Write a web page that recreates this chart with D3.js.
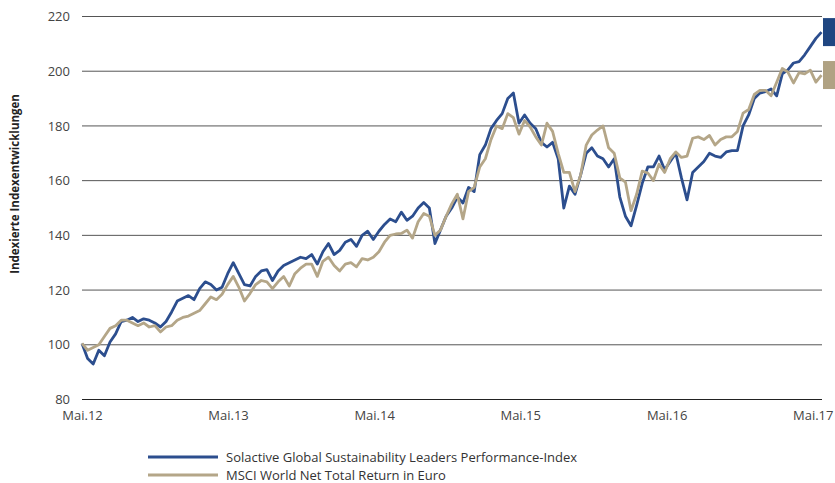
<!DOCTYPE html>
<html>
<head>
<meta charset="utf-8">
<script src="https://cdn.jsdelivr.net/npm/d3@7"></script>
<style>
  body { margin: 0; background: #fff; }
  text { font-family: "Open Sans", "Noto Sans", sans-serif; }
</style>
</head>
<body>
<div id="dataviz"></div>
<script>
// two-week observations starting May 2012
var startDate = "2012-05-01";
var stepDays = 14;

var solactive = [
  100.5, 95, 93, 98, 96, 101, 104, 108.5, 109, 110,
  108.5, 109.5, 109, 108, 106.5, 108.5, 112, 116, 117, 118,
  116.5, 120.5, 123, 122, 120, 121, 126, 130, 126, 122,
  121.5, 125, 127, 127.5, 123.5, 127, 129, 130, 131, 132,
  131.5, 133, 129.5, 134, 137, 133, 134.5, 137.5, 138.5, 136,
  140, 141.5, 138.5, 141.5, 144, 146, 145, 148.5, 145.5, 147,
  150, 152, 150, 137, 142, 147, 150, 154, 151.8, 157.5,
  156, 169.5, 173, 179, 182, 184.5, 190, 192, 181, 184,
  181, 179, 174, 172.3, 174, 168, 150, 158, 155, 162,
  170, 172, 169, 168, 165, 168, 154, 147, 143.5, 151,
  159, 165, 165, 169, 164, 167, 170, 161, 153, 163,
  165, 167, 170, 169, 168.5, 170.5, 171, 171, 180, 184,
  190, 192, 192.5, 193.5, 191, 199, 200.5, 203, 203.5, 206,
  209, 212, 214.3
];

var msci = [
  100.5, 98, 99, 100, 103, 106, 107, 109, 109, 108,
  107, 108, 106.5, 107, 104.7, 106.5, 107, 109, 110, 110.5,
  111.5, 112.5, 115, 117.5, 116.5, 118.5, 122, 125, 121, 116,
  118.8, 122, 123.5, 123, 120.5, 123, 125, 121.5, 126, 128,
  129.5, 129.5, 125, 130.5, 132, 129, 127, 129.5, 130, 128.5,
  131.5, 131, 132, 134, 137.5, 140, 140.5, 140.7, 141.9, 139,
  145, 148, 147, 140, 142, 147, 151.5, 155, 146, 156,
  157.5, 165, 168, 175, 180, 179, 184.5, 183, 177, 182,
  179.6, 176, 173, 181, 178, 170, 163, 163, 156, 162,
  173, 176.7, 178.5, 180, 172, 170, 161, 159.5, 149, 155,
  163.5, 162.8, 160, 166, 163, 168, 170.5, 168.5, 169, 175.5,
  176, 175, 176.5, 173, 175, 176, 176, 178, 184.7, 186,
  191.5, 193, 193, 191, 196, 201, 199.7, 195.7, 199.5, 199,
  200.4, 196, 198.6
];

var seriesNames = [
  "Solactive Global Sustainability Leaders Performance-Index",
  "MSCI World Net Total Return in Euro"
];
var seriesColors = ["#2c4e8e", "#b4a688"];
var markerColors = ["#1f4681", "#b0a283"];

var yTicks = [80, 100, 120, 140, 160, 180, 200, 220];
var xTickLabels = ["Mai.12", "Mai.13", "Mai.14", "Mai.15", "Mai.16", "Mai.17"];
var xTickDates = ["2012-05-01", "2013-05-01", "2014-05-01", "2015-05-01", "2016-05-01", "2017-05-01"];
var yTitle = "Indexierte Indexentwicklungen";

var parse = d3.timeParse("%Y-%m-%d");
var t0 = parse(startDate);
var toRows = function(values) {
  return values.map(function(v, i) {
    return { date: d3.timeDay.offset(t0, i * stepDays), value: v };
  });
};
var rows = [toRows(solactive), toRows(msci)];

var W = 835, H = 483;
var svg = d3.select("#dataviz")
  .append("svg")
    .attr("width", W)
    .attr("height", H);

var x = d3.scaleTime()
  .domain([t0, rows[0][rows[0].length - 1].date])
  .range([82, 821.5]);

var y = d3.scaleLinear()
  .domain([80, 220])
  .range([399.5, 16.5]);

// horizontal gridlines
svg.append("g")
  .selectAll("line")
  .data(yTicks)
  .enter()
  .append("line")
    .attr("x1", 82)
    .attr("x2", 822)
    .attr("y1", function(d) { return y(d); })
    .attr("y2", function(d) { return y(d); })
    .attr("stroke", function(d) { return d === 80 ? "#222" : "#555"; })
    .attr("stroke-width", 1);

var yAxis = svg.append("g")
  .attr("transform", "translate(82,0)")
  .call(d3.axisLeft(y).tickValues(yTicks).tickSize(0).tickPadding(12));
yAxis.select(".domain").remove();
yAxis.selectAll("text")
  .attr("fill", "#444")
  .style("font-size", "13px");

var xAxis = svg.append("g")
  .attr("transform", "translate(0,399.5)")
  .call(d3.axisBottom(x)
    .tickValues(xTickDates.map(parse))
    .tickFormat(function(d, i) { return xTickLabels[i]; })
    .tickSize(0)
    .tickPadding(11));
xAxis.select(".domain").remove();
xAxis.selectAll("text")
  .attr("fill", "#444")
  .style("font-size", "13px");

svg.append("text")
  .attr("transform", "rotate(-90)")
  .attr("x", -184)
  .attr("y", 19)
  .style("text-anchor", "middle")
  .style("font-size", "11.5px")
  .style("font-weight", "bold")
  .attr("fill", "#222")
  .text(yTitle);

var line = d3.line()
  .x(function(d) { return x(d.date); })
  .y(function(d) { return y(d.value); });

rows.forEach(function(r, k) {
  svg.append("path")
    .datum(r)
    .attr("fill", "none")
    .attr("stroke", seriesColors[k])
    .attr("stroke-width", 2.8)
    .attr("stroke-linejoin", "round")
    .attr("d", line);
});

// end-value markers at the right edge
rows.forEach(function(r, k) {
  var last = r[r.length - 1].value;
  svg.append("rect")
    .attr("x", 823)
    .attr("y", y(last) - 14)
    .attr("width", 12)
    .attr("height", 28)
    .attr("fill", markerColors[k]);
});

var legend = svg.append("g");
seriesNames.forEach(function(name, k) {
  var ly = 457 + k * 18;
  legend.append("line")
    .attr("x1", 148)
    .attr("x2", 218)
    .attr("y1", ly)
    .attr("y2", ly)
    .attr("stroke", seriesColors[k])
    .attr("stroke-width", 3);
  legend.append("text")
    .attr("x", 226)
    .attr("y", ly + 5)
    .attr("fill", "#333")
    .style("font-size", "13px")
    .text(name);
});
</script>
</body>
</html>
